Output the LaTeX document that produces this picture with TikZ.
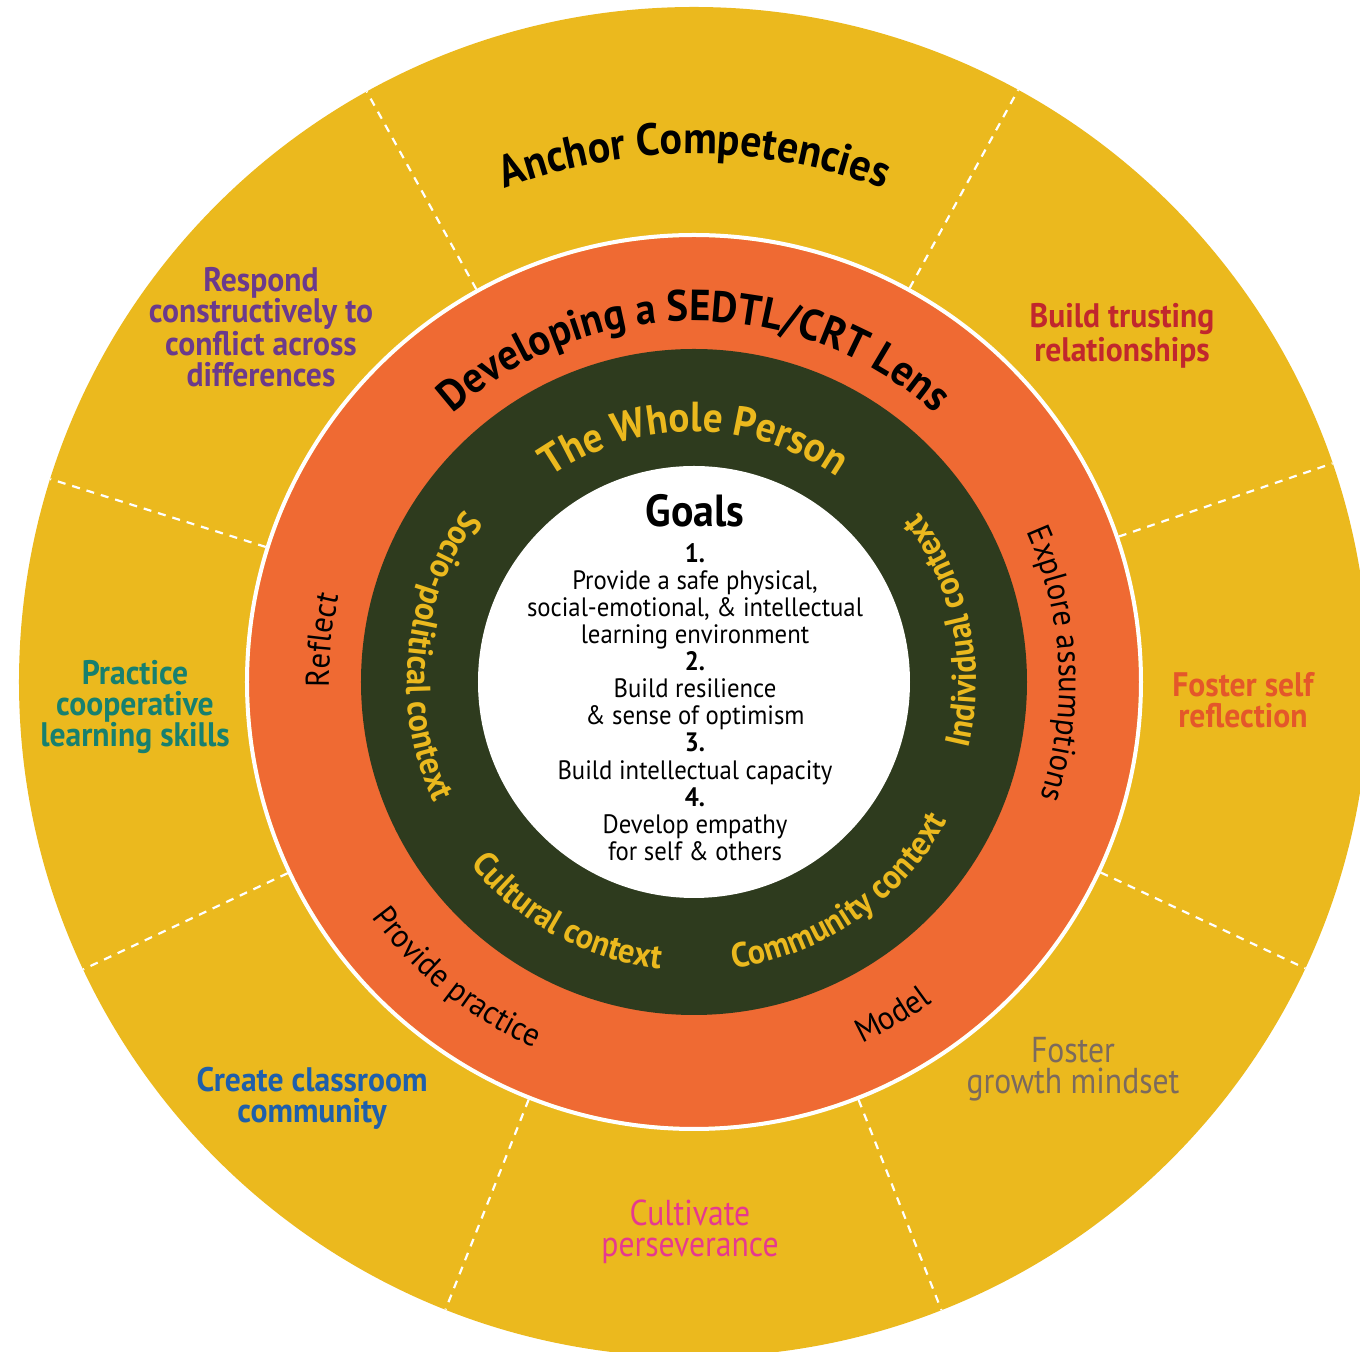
\documentclass[tikz,border=0pt]{standalone}
\usepackage{fontspec}
\setmainfont{PT Sans}[FakeStretch=0.93]
\newfontfamily\narrowsans{PT Sans}[FakeStretch=0.88]
\usetikzlibrary{decorations.text}

\definecolor{ringyellow}{HTML}{EBB91E}
\definecolor{ringorange}{HTML}{EF6A33}
\definecolor{ringgreen}{HTML}{2E3B1E}
\definecolor{labpurple}{HTML}{6B3A8C}
\definecolor{labred}{HTML}{C1272D}
\definecolor{laborange}{HTML}{E4572A}
\definecolor{labbrown}{HTML}{7B6A5E}
\definecolor{labpink}{HTML}{E6398F}
\definecolor{labblue}{HTML}{1F5FAA}
\definecolor{labteal}{HTML}{17806F}

% font sizes (1 unit = 0.5pt)
\newcommand\fAnchor{\fontsize{22.5}{22.5}\selectfont\bfseries}
\newcommand\fLens{\fontsize{21.8}{21.8}\selectfont\bfseries}
\newcommand\fWhole{\color{ringyellow}\fontsize{21}{21}\selectfont\bfseries}
\newcommand\fCtx{\color{ringyellow}\fontsize{17.3}{17.3}\selectfont\bfseries}
\newcommand\fAct{\fontsize{16.5}{16.5}\selectfont}

\begin{document}
\begin{tikzpicture}[x=0.5pt,y=0.5pt,
  competency/.style={align=center,font=\fontsize{17}{15.5}\selectfont\bfseries},
  narrowlabel/.style={align=center,font=\narrowsans\fontsize{18}{15.3}\selectfont},
  divider/.style={draw=white,line width=1.1pt,dash pattern=on 4pt off 3.5pt},
  arctext/.style={decorate,decoration={text along path,text align=center,text={#1}}}]

\useasboundingbox (-694,-670) rectangle (666,682);
\clip (-694,-670) rectangle (666,682);

% rings
\fill[ringyellow] (0,0) circle[radius=675];
\foreach \a in {119,61.3,18.9,-25.1,-68.5,-111.6,-154.8,162.5}
  \draw[divider] (\a:449) -- (\a:675);
\fill[ringorange] (0,0) circle[radius=445];
\draw[white,line width=2pt] (0,0) circle[radius=447];
\fill[ringgreen] (0,0) circle[radius=333];
\fill[white] (0,0) circle[radius=216];

% ring titles
\path[arctext={|\fAnchor|Anchor Competencies}]
  (135:528) arc[start angle=135,end angle=45,radius=528];
\path[arctext={|\fLens|Developing a SEDTL/CRT Lens}]
  (165:361) arc[start angle=165,end angle=15,radius=361];
\path[arctext={|\fWhole|The Whole Person}]
  (155:250) arc[start angle=155,end angle=25,radius=250];

% contexts on the green ring
\path[arctext={|\fCtx|Socio-political context}]
  (104:287) arc[start angle=104,end angle=244,radius=287];
\path[arctext={|\fCtx|Individual context}]
  (-58:282) arc[start angle=-58,end angle=81.4,radius=282];
\path[arctext={|\fCtx|Cultural context}]
  (-165:289) arc[start angle=-165,end angle=-72.4,radius=289];
\path[arctext={|\fCtx|Community context}]
  (-100:289) arc[start angle=-100,end angle=-11,radius=289];

% actions on the orange ring
\path[arctext={|\fAct|Reflect}]
  (213.6:365) arc[start angle=213.6,end angle=133.6,radius=365];
\path[arctext={|\fAct|Explore assumptions}]
  (47.9:365) arc[start angle=47.9,end angle=-42.1,radius=365];
\path[arctext={|\fAct|Provide practice}]
  (-173.7:399) arc[start angle=-173.7,end angle=-83.7,radius=399];
\path[arctext={|\fAct|Model}]
  (-89.2:399) arc[start angle=-89.2,end angle=-29.2,radius=399];

% anchor competencies
\node[competency,text=labpurple] (respond) at (-433,355)
  {Respond\\constructively to\\conflict across\\differences};
\node[competency,text=labred] (trust) at (428,346)
  {Build trusting\\relationships};
\node[competency,text=laborange] (selfrefl) at (549,-18)
  {Foster self\\reflection};
\node[narrowlabel,text=labbrown] (growth) at (379,-387)
  {Foster\\growth mindset};
\node[narrowlabel,text=labpink] (persev) at (-4,-550)
  {Cultivate\\perseverance};
\node[competency,text=labblue] (classroom) at (-382,-416)
  {Create classroom\\community};
\node[competency,text=labteal] (coop) at (-559,-25)
  {Practice\\cooperative\\learning skills};

% goals
\node (goalstitle) at (1,171) {\fontsize{22.5}{22.5}\selectfont\bfseries Goals};
\node[align=center,font=\fontsize{13.3}{13.55}\selectfont] (goallist) at (1,-20)
  {\textbf{1.}\\Provide a safe physical,\\social-emotional, \& intellectual\\learning environment\\
   \textbf{2.}\\Build resilience\\\& sense of optimism\\
   \textbf{3.}\\Build intellectual capacity\\
   \textbf{4.}\\Develop empathy\\for self \& others};
\end{tikzpicture}
\end{document}
